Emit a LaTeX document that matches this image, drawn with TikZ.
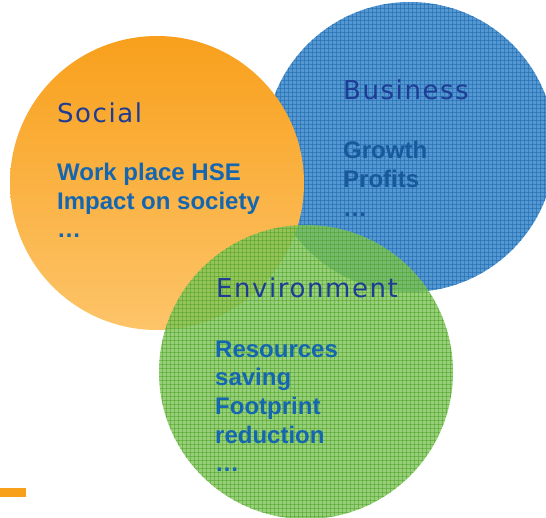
\documentclass[tikz,border=0pt]{standalone}
\usepackage{fontspec}
\setmainfont{Liberation Sans}
\newfontfamily\titlefont[LetterSpace=6]{DejaVu Sans}
\definecolor{orangeA}{HTML}{F8A01C}
\definecolor{orangeB}{HTML}{FDC469}
\definecolor{blueBase}{HTML}{5597D2}
\definecolor{blueLine}{HTML}{1E68AC}
\definecolor{greenBase}{HTML}{80C65A}
\definecolor{greenLine}{HTML}{4FA42C}
\definecolor{titleblue}{HTML}{1E3C94}
\definecolor{bodyblue}{HTML}{1566B0}
\definecolor{bodydark}{HTML}{17599A}
\begin{document}
\begin{tikzpicture}[x=1pt,y=-1pt,
  title/.style={anchor=base west, inner sep=0pt, font=\titlefont\fontsize{26}{30}\selectfont, text=titleblue},
  body/.style={anchor=base west, inner sep=0pt, font=\bfseries\fontsize{24}{29}\selectfont, text=bodyblue},
  gridline/.style={line width=0.6pt, opacity=0.55}]
\useasboundingbox (0,0) rectangle (546,517);
% Business circle (blue, textured)
\begin{scope}
  \clip (410,147) circle[radius=145pt];
  \fill[blueBase] (264,0) rectangle (556,294);
  \foreach \i in {0,...,73} {
    \draw[blueLine, gridline] ({264+4*\i},0) -- ({264+4*\i},294);
  }
  \foreach \j in {0,...,73} {
    \draw[blueLine, gridline] (264,{4*\j}) -- (556,{4*\j});
  }
\end{scope}
% Social circle (orange gradient)
\shade[top color=orangeA, bottom color=orangeB] (157,183) circle[radius=147pt];
% Environment circle (green, textured, translucent)
\begin{scope}
  \clip (306,372) circle[radius=147pt];
  \fill[greenBase, opacity=0.82] (158,224) rectangle (454,520);
  \foreach \i in {0,...,74} {
    \draw[greenLine, gridline] ({158+4*\i},224) -- ({158+4*\i},520);
  }
  \foreach \j in {0,...,74} {
    \draw[greenLine, gridline] (158,{224+4*\j}) -- (454,{224+4*\j});
  }
\end{scope}
% small orange bar
\fill[orangeA] (0,488) rectangle (26,497);
% texts
\node[title] (soc) at (57,122) {Social};
\node[body] (soc1) at (57,180) {Work place HSE};
\node[body] (soc2) at (57,209) {Impact on society};
\node[body] (soc3) at (57,237) {…};
\node[title] (bus) at (343,99) {Business};
\node[body, text=bodydark] (bus1) at (343,158) {Growth};
\node[body, text=bodydark] (bus2) at (343,187) {Profits};
\node[body, text=bodydark] (bus3) at (343,216) {…};
\node[title] (env) at (216,297) {Environment};
\node[body] (env1) at (215,357) {Resources};
\node[body] (env2) at (215,385) {saving};
\node[body] (env3) at (215,414) {Footprint};
\node[body] (env4) at (215,443) {reduction};
\node[body] (env5) at (215,471) {…};
\end{tikzpicture}
\end{document}
